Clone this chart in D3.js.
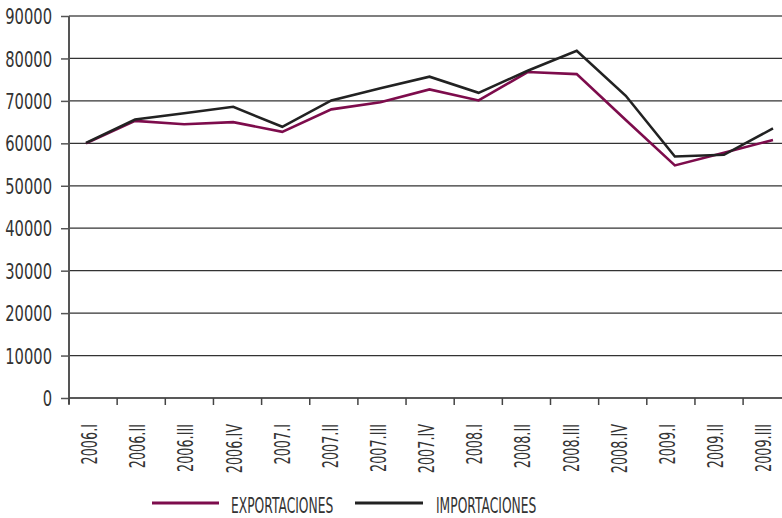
<!DOCTYPE html>
<html>
<head>
<meta charset="utf-8">
<script src="https://cdn.jsdelivr.net/npm/d3@7"></script>
<style>
  html, body { margin: 0; padding: 0; background: #fff; }
  svg { display: block; }
  text { font-family: "DejaVu Sans", sans-serif; fill: #333; }
</style>
</head>
<body>
<svg id="chart" width="782" height="518"></svg>
<script>
const categories = ["2006.I","2006.II","2006.III","2006.IV","2007.I","2007.II","2007.III","2007.IV",
                    "2008.I","2008.II","2008.III","2008.IV","2009.I","2009.II","2009.III"];
const exportaciones = [60000, 65300, 64500, 65000, 62700, 68000, 69700, 72700, 70100, 76800, 76300, 65500, 54800, 57800, 60800];
const importaciones = [60100, 65600, 67100, 68600, 63900, 70100, 73000, 75700, 71900, 77100, 81800, 71200, 56900, 57300, 63500];
const yTicks = [0, 10000, 20000, 30000, 40000, 50000, 60000, 70000, 80000, 90000];
const seriesNames = ["EXPORTACIONES", "IMPORTACIONES"];
const seriesColors = ["#7d0c4c", "#222222"];

const svg = d3.select("#chart");
const mLeft = 69, mTop = 16, mBottom = 398, mRight = 782;

const y = d3.scaleLinear().domain([0, 90000]).range([mBottom, mTop]);
const xBand = d3.scaleBand().domain(categories).range([mLeft, mLeft + 48.15 * categories.length]);
const xPt = d3.scalePoint().domain(categories).range([86, 773]);

// condense text horizontally (reference uses a condensed face)
function condense(sel, k) {
  sel.each(function () {
    const w = this.getComputedTextLength();
    d3.select(this).attr("textLength", w * k).attr("lengthAdjust", "spacingAndGlyphs");
  });
}

// gridlines
svg.append("g").selectAll("line").data(yTicks).join("line")
  .attr("x1", mLeft).attr("x2", mRight)
  .attr("y1", d => y(d)).attr("y2", d => y(d))
  .attr("stroke", d => d === 90000 ? "#555" : "#333")
  .attr("stroke-width", d => d === 90000 ? 1.6 : 1.2);

// y axis
const yAxis = svg.append("g").attr("transform", `translate(${mLeft},0)`)
  .call(d3.axisLeft(y).tickValues(yTicks).tickSize(8).tickPadding(9).tickFormat(d3.format("d")));
yAxis.select(".domain").remove();
yAxis.selectAll(".tick line").attr("stroke", "#555").attr("stroke-width", 1.5);
yAxis.selectAll(".tick text").attr("font-size", 21).attr("fill", "#333")
  .style("font-family", '"DejaVu Sans", sans-serif').attr("dy", "0.36em");
condense(yAxis.selectAll(".tick text"), 0.70);
svg.append("line").attr("x1", mLeft).attr("x2", mLeft).attr("y1", mTop).attr("y2", mBottom + 6)
  .attr("stroke", "#555").attr("stroke-width", 2);

// x axis line
svg.append("line").attr("x1", mLeft).attr("x2", mRight).attr("y1", mBottom).attr("y2", mBottom)
  .attr("stroke", "#444").attr("stroke-width", 1.6);
// x ticks at band boundaries
svg.append("g").selectAll("line").data(categories).join("line")
  .attr("x1", d => xBand(d)).attr("x2", d => xBand(d))
  .attr("y1", mBottom).attr("y2", mBottom + 7)
  .attr("stroke", "#444").attr("stroke-width", 1.5);
// x labels
const xl = svg.append("g").selectAll("text").data(categories).join("text")
  .attr("transform", d => `translate(${xBand(d) + xBand.bandwidth() / 2 + 4},${mBottom + 26}) rotate(-90)`)
  .attr("text-anchor", "end")
  .attr("font-size", 21)
  .text(d => d);
condense(xl, 0.61);

// lines
const line = d3.line().x((d, i) => xPt(categories[i])).y(d => y(d));
[exportaciones, importaciones].forEach((s, k) => {
  svg.append("path").datum(s)
    .attr("d", line)
    .attr("fill", "none")
    .attr("stroke", seriesColors[k])
    .attr("stroke-width", 2.6)
    .attr("stroke-linejoin", "miter");
});

// legend
const legendItems = [
  {name: seriesNames[0], color: seriesColors[0], x1: 152, x2: 219, tx: 231},
  {name: seriesNames[1], color: seriesColors[1], x1: 355, x2: 423, tx: 436}
];
const lg = svg.append("g");
legendItems.forEach(it => {
  lg.append("line").attr("x1", it.x1).attr("x2", it.x2).attr("y1", 503).attr("y2", 503)
    .attr("stroke", it.color).attr("stroke-width", 3);
  const t = lg.append("text").attr("x", it.tx).attr("y", 513).attr("font-size", 21).text(it.name);
  condense(t, 0.585);
});
</script>
</body>
</html>
